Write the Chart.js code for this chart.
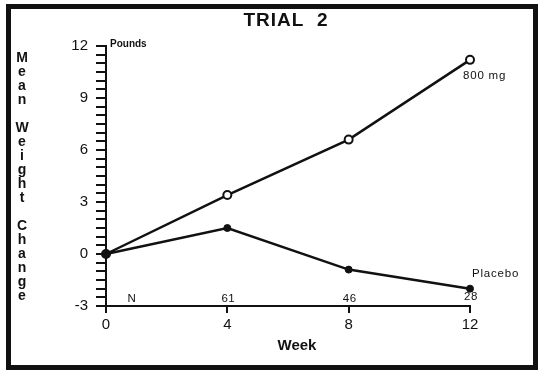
<!DOCTYPE html>
<html lang="en">
<head>
<meta charset="UTF-8">
<title>Trial 2</title>
<style>
  body { margin: 0; background: #fff; }
  #chart { display: block; }
</style>
</head>
<body>
<canvas id="chart" width="545" height="378"></canvas>
<script src="https://cdn.jsdelivr.net/npm/chart.js"></script>
<script>
// values
var weeks = [0, 4, 8, 12];
var dose800 = [0, 3.4, 6.6, 11.2];
var placebo = [0, 1.5, -0.9, -2.0];
var nWeeks = [4, 8, 12];
var nCounts = ['61', '46', '28'];
var yLabels = [-3, 0, 3, 6, 9, 12];
var xLabels = [0, 4, 8, 12];
var yTitle = 'Mean Weight Change';

var ink = '#111';
var font = '"Liberation Sans", Arial, Helvetica, sans-serif';

function points(ys) {
    return weeks.map(function (w, i) { return { x: w, y: ys[i] }; });
}

// frame, titles and the small labels
var decorations = {
    id: 'decorations',
    afterDraw: function (chart) {
        var ctx = chart.ctx;
        var xs = chart.scales.x;
        ctx.save();
        ctx.strokeStyle = ink;
        ctx.lineWidth = 5;
        ctx.strokeRect(8.5, 6.5, 527, 361);

        ctx.fillStyle = ink;
        ctx.textAlign = 'center';
        ctx.textBaseline = 'middle';
        ctx.font = 'bold 19px ' + font;
        ctx.letterSpacing = '1px';
        ctx.fillText('TRIAL  2', 286, 21);
        ctx.letterSpacing = '0px';

        // stacked letters for the y title
        ctx.font = 'bold 14px ' + font;
        var row = 0;
        yTitle.split(' ').forEach(function (word) {
            word.split('').forEach(function (ch) {
                ctx.fillText(ch, 22, 58 + row * 14);
                row++;
            });
            row++;
        });

        ctx.font = 'bold 15px ' + font;
        ctx.fillText('Week', 297, 346);

        ctx.textAlign = 'left';
        ctx.font = 'bold 10px ' + font;
        ctx.fillText('Pounds', 110, 44);

        ctx.textAlign = 'center';
        ctx.font = '11.5px ' + font;
        ctx.letterSpacing = '0.5px';
        ctx.fillText('N', xs.getPixelForValue(0) + 26, 299);
        nWeeks.forEach(function (w, i) {
            ctx.fillText(nCounts[i], xs.getPixelForValue(w) + 1, i === 2 ? 297 : 299);
        });

        ctx.textAlign = 'left';
        ctx.letterSpacing = '0.8px';
        var pA = chart.getDatasetMeta(1).data[weeks.length - 1];
        ctx.fillText('800 mg', pA.x - 7, pA.y + 16);
        var pB = chart.getDatasetMeta(0).data[weeks.length - 1];
        ctx.fillText('Placebo', pB.x + 2, pB.y - 15);
        ctx.restore();
    }
};

new Chart(document.getElementById('chart'), {
    type: 'line',
    data: {
        datasets: [{
            label: 'Placebo',
            data: points(placebo),
            borderColor: ink,
            borderWidth: 2.5,
            pointRadius: 3.5,
            pointBackgroundColor: ink,
            pointBorderColor: ink,
            pointBorderWidth: 1,
            clip: false
        }, {
            label: '800 mg',
            data: points(dose800),
            borderColor: ink,
            borderWidth: 2.5,
            pointRadius: 4,
            pointBackgroundColor: '#fff',
            pointBorderColor: ink,
            pointBorderWidth: 2,
            clip: false
        }]
    },
    options: {
        responsive: false,
        animation: false,
        layout: { padding: { top: 46, right: 75, left: 0, bottom: 0 } },
        plugins: {
            legend: { display: false },
            tooltip: { enabled: false }
        },
        scales: {
            x: {
                type: 'linear',
                min: 0,
                max: 12,
                afterBuildTicks: function (scale) {
                    scale.ticks = xLabels.map(function (v) { return { value: v }; });
                },
                afterFit: function (scale) { scale.height = 72; },
                ticks: { color: ink, font: { family: font, size: 15 }, padding: 3 },
                grid: { drawOnChartArea: false, drawTicks: true, tickLength: 7, color: ink, lineWidth: 2 },
                border: { color: ink, width: 2 }
            },
            y: {
                min: -3,
                max: 12,
                afterFit: function (scale) { scale.width = 106; },
                ticks: {
                    stepSize: 0.5,
                    autoSkip: false,
                    color: ink,
                    font: { family: font, size: 15 },
                    padding: 8,
                    callback: function (v) { return yLabels.indexOf(v) >= 0 ? String(v) : ''; }
                },
                grid: { drawOnChartArea: false, drawTicks: true, tickLength: 10, color: ink, lineWidth: 2 },
                border: { color: ink, width: 2 }
            }
        }
    },
    plugins: [decorations]
});
</script>
</body>
</html>
